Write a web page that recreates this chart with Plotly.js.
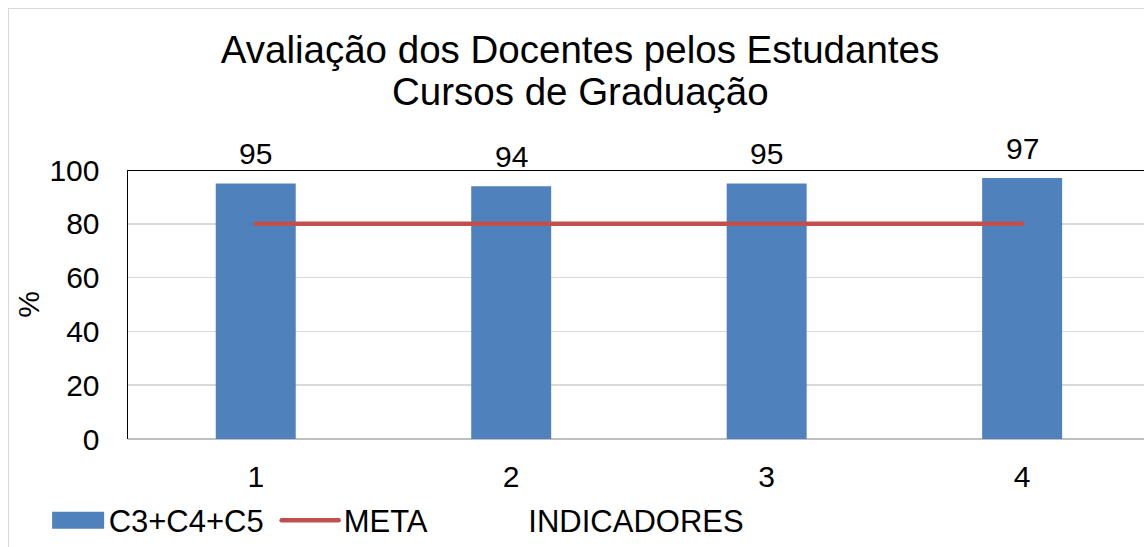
<!DOCTYPE html>
<html>
<head>
<meta charset="utf-8">
<script src="https://cdn.plot.ly/plotly-3.0.1.min.js"></script>
<style>
html,body{margin:0;padding:0;background:#fff;}
#chart{width:1144px;height:547px;position:relative;}
#frame{position:absolute;left:8px;top:8px;width:2000px;height:2000px;border:1px solid #d9d9d9;pointer-events:none;}
</style>
</head>
<body>
<div id="chart"></div>
<div id="frame"></div>
<script>
const categories = [1, 2, 3, 4];
const tickLabels = ['1', '2', '3', '4'];
const barValues = [95, 94, 95, 97];
const metaValues = [80, 80, 80, 80];
const barName = 'C3+C4+C5';
const metaName = 'META';
const yTicks = [0, 20, 40, 60, 80, 100];
const titleLines = ['Avaliação dos Docentes pelos Estudantes', 'Cursos de Graduação'];
const xTitle = 'INDICADORES';
const yTitle = '%';

const FONT = 'Liberation Sans, Arial, sans-serif';

const traces = [
  {
    type: 'bar',
    x: categories,
    y: barValues,
    name: barName,
    marker: {color: '#4F81BD', line: {color: '#4F81BD', width: 0}},
    width: 0.313,
    hoverinfo: 'none'
  },
  {
    type: 'scatter',
    mode: 'lines',
    x: categories,
    y: metaValues,
    name: metaName,
    line: {color: '#C0504D', width: 4.5},
    hoverinfo: 'none'
  }
];

const labelAnnotations = categories.map((c, i) => ({
  x: c, y: barValues[i], xref: 'x', yref: 'y',
  text: String(barValues[i]), showarrow: false,
  xanchor: 'center', yanchor: 'bottom', yshift: 11,
  font: {family: FONT, size: 30, color: '#000'}
}));

const layout = {
  width: 1144,
  height: 547,
  margin: {l: 128, r: 0, t: 170, b: 108, pad: 0, autoexpand: false},
  paper_bgcolor: '#fff',
  plot_bgcolor: '#fff',
  font: {family: FONT, size: 30, color: '#000'},
  showlegend: true,
  title: {
    text: titleLines[0],
    font: {family: FONT, size: 38.5, color: '#000'},
    x: 0.507, xanchor: 'center',
    y: 1 - 50 / 547, yanchor: 'middle'
  },
  xaxis: {
    range: [0.5, 4.477],
    tickvals: categories,
    ticktext: tickLabels,
    showgrid: false,
    zeroline: false,
    showline: false,
    ticks: 'outside', ticklen: 11, tickcolor: 'rgba(0,0,0,0)',
    tickfont: {family: FONT, size: 30, color: '#000'},
    title: {text: xTitle, font: {family: FONT, size: 31, color: '#000'}, standoff: 18},
    fixedrange: true
  },
  yaxis: {
    range: [0, 100],
    tickvals: yTicks,
    showgrid: true,
    gridcolor: '#d9d9d9',
    gridwidth: 1.5,
    zeroline: true,
    zerolinecolor: '#bfbfbf',
    zerolinewidth: 2,
    showline: true,
    linecolor: '#000',
    linewidth: 1.5,
    ticks: 'outside', ticklen: 21, tickcolor: 'rgba(0,0,0,0)',
    tickfont: {family: FONT, size: 30, color: '#000'},
    title: {text: yTitle, font: {family: FONT, size: 30, color: '#000'}, standoff: 1},
    fixedrange: true
  },
  shapes: [
    {type: 'line', xref: 'paper', yref: 'y', x0: 0, x1: 1, y0: 100, y1: 100,
     line: {color: '#000', width: 2}}
  ],
  legend: {
    orientation: 'h',
    x: -0.085, xanchor: 'left',
    y: -0.203, yanchor: 'top',
    font: {family: FONT, size: 31, color: '#000'},
    itemwidth: 57,
    entrywidth: 163,
    tracegroupgap: 0,
    bgcolor: 'rgba(0,0,0,0)'
  },
  annotations: labelAnnotations.concat([
    {text: titleLines[1], xref: 'paper', yref: 'paper', x: (580 - 128) / 1016, y: (439.3 - 91) / 269.8,
     xanchor: 'center', yanchor: 'middle', showarrow: false,
     font: {family: FONT, size: 38.5, color: '#000'}}
  ]),
  bargap: 0.687
};

function fixStyles(gd) {
  const items = gd.querySelectorAll('.legend .traces');
  if (items.length) {
    items[0].querySelectorAll('.legendpoints path').forEach(el => {
      el.setAttribute('d', 'M29,8.5H-23V-8.5H29Z');
    });
  }
  gd.querySelectorAll('.scatterlayer .js-line, .legend .legendlines path').forEach(el => {
    el.style.strokeLinecap = 'round';
  });
}

Plotly.newPlot('chart', traces, layout, {displayModeBar: false, staticPlot: true}).then(gd => {
  fixStyles(gd);
  gd.on('plotly_afterplot', () => fixStyles(gd));
});
</script>
</body>
</html>
